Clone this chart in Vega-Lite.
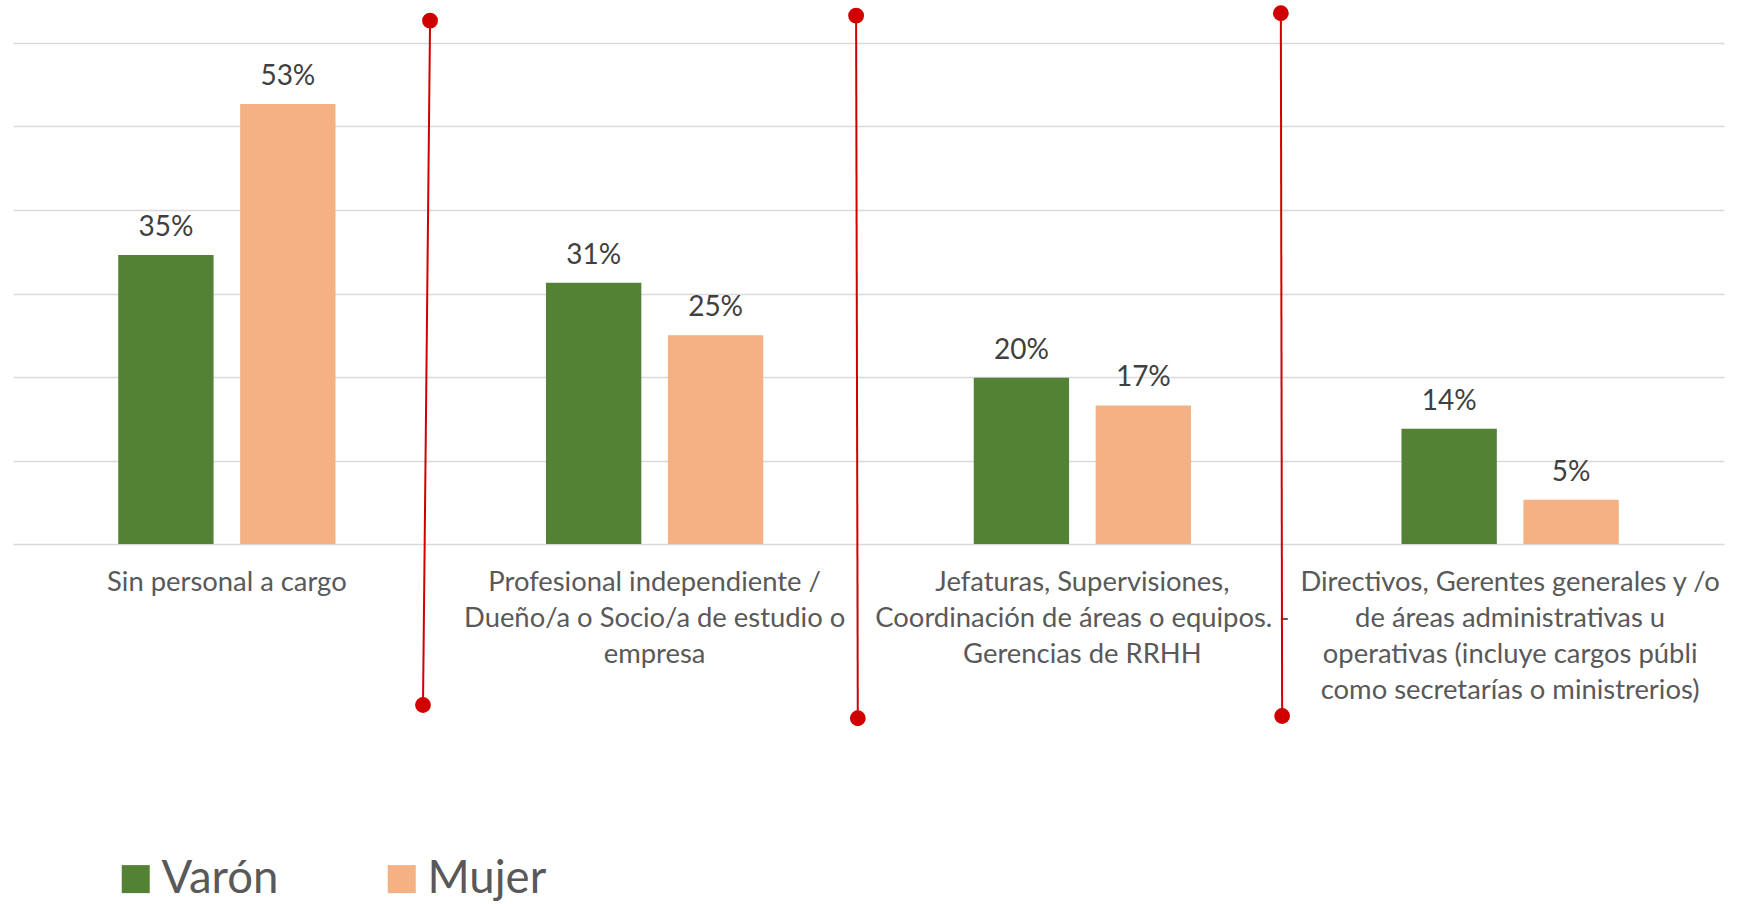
{
  "$schema": "https://vega.github.io/schema/vega-lite/v6.json",
  "width": 1711,
  "height": 501,
  "autosize": {"type": "none"},
  "padding": {"left": 13, "top": 43, "right": 13, "bottom": 360},
  "background": "white",
  "config": {"view": {"stroke": null}, "font": "Lato"},
  "datasets": {
    "bars": [
      {"categoria": "Sin personal a cargo", "sexo": "Varón", "valor": 34.6, "etiqueta": "35%"},
      {"categoria": "Sin personal a cargo", "sexo": "Mujer", "valor": 52.7, "etiqueta": "53%"},
      {"categoria": "Profesional independiente / Dueño/a o Socio/a de estudio o empresa", "sexo": "Varón", "valor": 31.3, "etiqueta": "31%"},
      {"categoria": "Profesional independiente / Dueño/a o Socio/a de estudio o empresa", "sexo": "Mujer", "valor": 25, "etiqueta": "25%"},
      {"categoria": "Jefaturas, Supervisiones, Coordinación de áreas o equipos. - Gerencias de RRHH", "sexo": "Varón", "valor": 19.9, "etiqueta": "20%"},
      {"categoria": "Jefaturas, Supervisiones, Coordinación de áreas o equipos. - Gerencias de RRHH", "sexo": "Mujer", "valor": 16.6, "etiqueta": "17%"},
      {"categoria": "Directivos, Gerentes generales y /o de áreas administrativas u operativas (incluye cargos públi como secretarías o ministrerios)", "sexo": "Varón", "valor": 13.8, "etiqueta": "14%"},
      {"categoria": "Directivos, Gerentes generales y /o de áreas administrativas u operativas (incluye cargos públi como secretarías o ministrerios)", "sexo": "Mujer", "valor": 5.3, "etiqueta": "5%"}
    ],
    "lineas": [
      {"x1": 0.975, "y1": 62.67, "x2": 0.9585, "y2": -19.28},
      {"x1": 1.971, "y1": 63.27, "x2": 1.975, "y2": -20.87},
      {"x1": 2.964, "y1": 63.56, "x2": 2.967, "y2": -20.6}
    ]
  },
  "layer": [
    {
      "data": {"name": "bars"},
      "encoding": {
        "x": {
          "field": "categoria",
          "type": "nominal",
          "sort": null,
          "scale": {"paddingInner": 0, "paddingOuter": 0},
          "axis": {
            "title": null,
            "labelAngle": 0,
            "domain": false,
            "ticks": false,
            "labelFontSize": 27.4,
            "labelColor": "#595959",
            "labelLimit": 600,
            "labelLineHeight": 36,
            "labelPadding": 24.5,
            "labelBaseline": "top",
            "labelExpr": "datum.value == 'Sin personal a cargo' ? ['Sin personal a cargo'] : indexof(datum.value, 'Profesional') == 0 ? ['Profesional independiente /', 'Dueño/a o Socio/a de estudio o', 'empresa'] : indexof(datum.value, 'Jefaturas') == 0 ? ['Jefaturas, Supervisiones,', 'Coordinación de áreas o equipos. -', 'Gerencias de RRHH'] : ['Directivos, Gerentes generales y /o', 'de áreas administrativas u', 'operativas (incluye cargos públi', 'como secretarías o ministrerios)']"
          }
        },
        "xOffset": {
          "field": "sexo",
          "type": "nominal",
          "scale": {"domain": ["Varón", "Mujer"], "paddingInner": 0.218, "paddingOuter": 0.863}
        },
        "y": {
          "field": "valor",
          "type": "quantitative",
          "scale": {"domain": [0, 60], "nice": false},
          "axis": {
            "title": null,
            "values": [0, 10, 20, 30, 40, 50, 60],
            "labels": false,
            "ticks": false,
            "domain": false,
            "grid": true,
            "gridColor": "#D9D9D9",
            "gridWidth": 1.5
          }
        }
      },
      "layer": [
        {
          "mark": {"type": "bar"},
          "encoding": {
            "color": {
              "field": "sexo",
              "type": "nominal",
              "scale": {"domain": ["Varón", "Mujer"], "range": ["#548235", "#F4B183"]},
              "legend": {
                "title": null,
                "orient": "none",
                "legendX": 100,
                "legendY": 813,
                "direction": "horizontal",
                "symbolType": "square",
                "symbolSize": 784,
                "symbolStrokeWidth": 0,
                "labelFontSize": 45.5,
                "labelColor": "#595959",
                "labelOffset": 3,
                "columnPadding": 100
              }
            }
          }
        },
        {
          "mark": {"type": "text", "baseline": "alphabetic", "dy": -19, "fontSize": 28, "color": "#404040"},
          "encoding": {"text": {"field": "etiqueta"}}
        }
      ]
    },
    {
      "data": {"name": "lineas"},
      "layer": [
        {
          "mark": {"type": "rule", "color": "#D00000", "strokeWidth": 2},
          "encoding": {
            "x": {"field": "x1", "type": "quantitative", "scale": {"domain": [0, 4], "nice": false, "zero": false}, "axis": null},
            "x2": {"field": "x2"},
            "y": {"field": "y1", "type": "quantitative", "scale": {"domain": [0, 60], "nice": false}, "axis": {"title": null, "values": [0, 10, 20, 30, 40, 50, 60], "labels": false, "ticks": false, "domain": false, "grid": true, "gridColor": "#D9D9D9", "gridWidth": 1.5}},
            "y2": {"field": "y2"}
          }
        },
        {
          "mark": {"type": "point", "filled": true, "color": "#D00000", "opacity": 1, "size": 250},
          "encoding": {
            "x": {"field": "x1", "type": "quantitative", "scale": {"domain": [0, 4], "nice": false, "zero": false}, "axis": null},
            "y": {"field": "y1", "type": "quantitative", "scale": {"domain": [0, 60], "nice": false}, "axis": {"title": null, "values": [0, 10, 20, 30, 40, 50, 60], "labels": false, "ticks": false, "domain": false, "grid": true, "gridColor": "#D9D9D9", "gridWidth": 1.5}}
          }
        },
        {
          "mark": {"type": "point", "filled": true, "color": "#D00000", "opacity": 1, "size": 250},
          "encoding": {
            "x": {"field": "x2", "type": "quantitative", "scale": {"domain": [0, 4], "nice": false, "zero": false}, "axis": null},
            "y": {"field": "y2", "type": "quantitative", "scale": {"domain": [0, 60], "nice": false}, "axis": {"title": null, "values": [0, 10, 20, 30, 40, 50, 60], "labels": false, "ticks": false, "domain": false, "grid": true, "gridColor": "#D9D9D9", "gridWidth": 1.5}}
          }
        }
      ]
    }
  ],
  "resolve": {"scale": {"x": "independent"}}
}
